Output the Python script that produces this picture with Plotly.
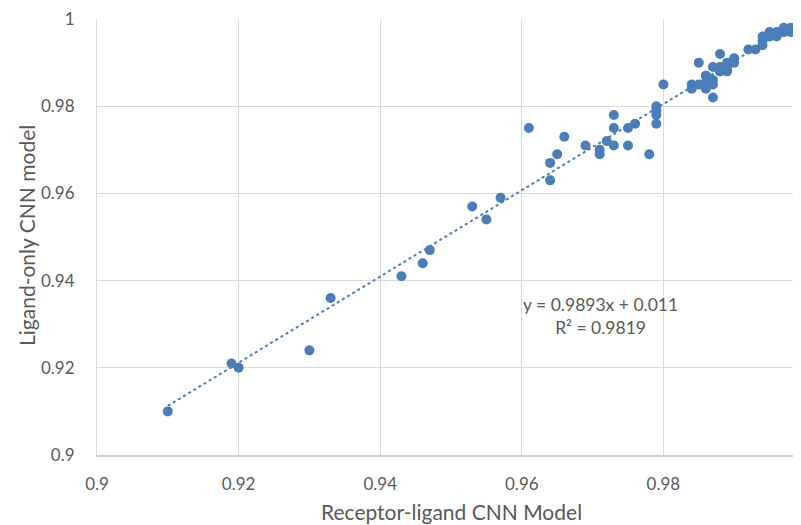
import plotly.graph_objects as go

receptor_ligand = [
    0.910, 0.919, 0.920, 0.930, 0.933, 0.943, 0.946, 0.947, 0.953, 0.955,
    0.957, 0.961, 0.964, 0.964, 0.965, 0.966, 0.969, 0.971, 0.971, 0.972,
    0.973, 0.973, 0.973, 0.975, 0.975, 0.976, 0.978, 0.979, 0.979, 0.979,
    0.979, 0.980, 0.984, 0.984, 0.985, 0.986, 0.986, 0.986, 0.987, 0.987,
    0.987, 0.987, 0.988, 0.988, 0.988, 0.989, 0.989, 0.989, 0.990, 0.990,
    0.992, 0.993, 0.994, 0.994, 0.994, 0.995, 0.995, 0.996, 0.996, 0.997,
    0.997, 0.998, 0.998, 0.999, 1.000, 0.985, 0.986, 0.988,
]
ligand_only = [
    0.910, 0.921, 0.920, 0.924, 0.936, 0.941, 0.944, 0.947, 0.957, 0.954,
    0.959, 0.975, 0.963, 0.967, 0.969, 0.973, 0.971, 0.969, 0.970, 0.972,
    0.978, 0.975, 0.971, 0.971, 0.975, 0.976, 0.969, 0.976, 0.978, 0.979,
    0.980, 0.985, 0.985, 0.984, 0.990, 0.985, 0.984, 0.987, 0.985, 0.982,
    0.989, 0.986, 0.992, 0.989, 0.988, 0.988, 0.989, 0.990, 0.991, 0.990,
    0.993, 0.993, 0.994, 0.995, 0.996, 0.997, 0.996, 0.996, 0.997, 0.997,
    0.998, 0.997, 0.998, 0.999, 1.000, 0.985, 0.987, 0.988,
]

slope = 0.9893
intercept = 0.011
trend_x = [min(receptor_ligand), max(receptor_ligand)]
trend_y = [slope * v + intercept for v in trend_x]

x_ticks = [0.9, 0.92, 0.94, 0.96, 0.98]
x_tick_labels = ["0.9", "0.92", "0.94", "0.96", "0.98"]
y_ticks = [0.9, 0.92, 0.94, 0.96, 0.98, 1.0]
y_tick_labels = ["0.9", "0.92", "0.94", "0.96", "0.98", "1"]

blue = "#4a7ebb"
font_family = "Lato, 'Open Sans', sans-serif"
grey = "#595959"

# page body has an 8px margin: figure is placed at (8, 8) in the window
OFF = 8
W, H = 801 - OFF, 525 - OFF
L, T = 97 - OFF, 19 - OFF
B = H - (455 - OFF)
R = 0
pw, ph = W - L - R, H - T - B


def px(xw):
    return (xw - OFF - L) / pw


def py(yw):
    return (H - B - (yw - OFF)) / ph


fig = go.Figure()
fig.add_trace(go.Scatter(
    x=trend_x, y=trend_y, mode="lines",
    line=dict(color=blue, width=2, dash="dot"),
    hoverinfo="skip", showlegend=False, cliponaxis=False,
))
fig.add_trace(go.Scatter(
    x=receptor_ligand, y=ligand_only, mode="markers",
    marker=dict(color=blue, size=10, line=dict(width=0)),
    showlegend=False, cliponaxis=False,
))

fig.add_annotation(
    x=px(600), y=py(316), xref="paper", yref="paper",
    text="y = 0.9893x + 0.011<br>R² = 0.9819",
    showarrow=False, align="center", xanchor="center", yanchor="middle",
    font=dict(family=font_family, size=17.5, color=grey),
)
fig.add_annotation(
    x=px(805), y=py(483), xref="paper", yref="paper",
    text="1", showarrow=False, xanchor="center", yanchor="middle",
    font=dict(family=font_family, size=17, color=grey),
)
fig.add_annotation(
    x=px(451), y=py(511), xref="paper", yref="paper",
    text="Receptor-ligand CNN Model", showarrow=False,
    xanchor="center", yanchor="middle",
    font=dict(family=font_family, size=21, color=grey),
)
fig.add_annotation(
    x=px(27), y=py(236), xref="paper", yref="paper",
    text="Ligand-only CNN model", showarrow=False, textangle=-90,
    xanchor="center", yanchor="middle",
    font=dict(family=font_family, size=21, color=grey),
)

fig.update_layout(
    width=W, height=H,
    margin=dict(l=L, r=R, t=T, b=B, autoexpand=False),
    plot_bgcolor="white", paper_bgcolor="white",
    font=dict(family=font_family, size=17, color=grey),
    xaxis=dict(
        range=[0.9, 0.9 + 0.1 * (801 - 97) / 708], automargin=False,
        tickvals=x_ticks, ticktext=x_tick_labels,
        showgrid=True, gridcolor="#d9d9d9", gridwidth=1,
        zeroline=False, showline=True, linecolor="#cfcfcf", linewidth=1.5,
        ticks="", ticklabelstandoff=13, ticklabeloverflow="allow",
    ),
    yaxis=dict(
        range=[0.9, 1.00001], automargin=False,
        tickvals=y_ticks, ticktext=y_tick_labels,
        showgrid=True, gridcolor="#d9d9d9", gridwidth=1,
        zeroline=False, showline=True, linecolor="#d9d9d9", linewidth=1,
        ticks="", ticklabelstandoff=18, ticklabeloverflow="allow",
    ),
)

fig.write_html("out.html")
